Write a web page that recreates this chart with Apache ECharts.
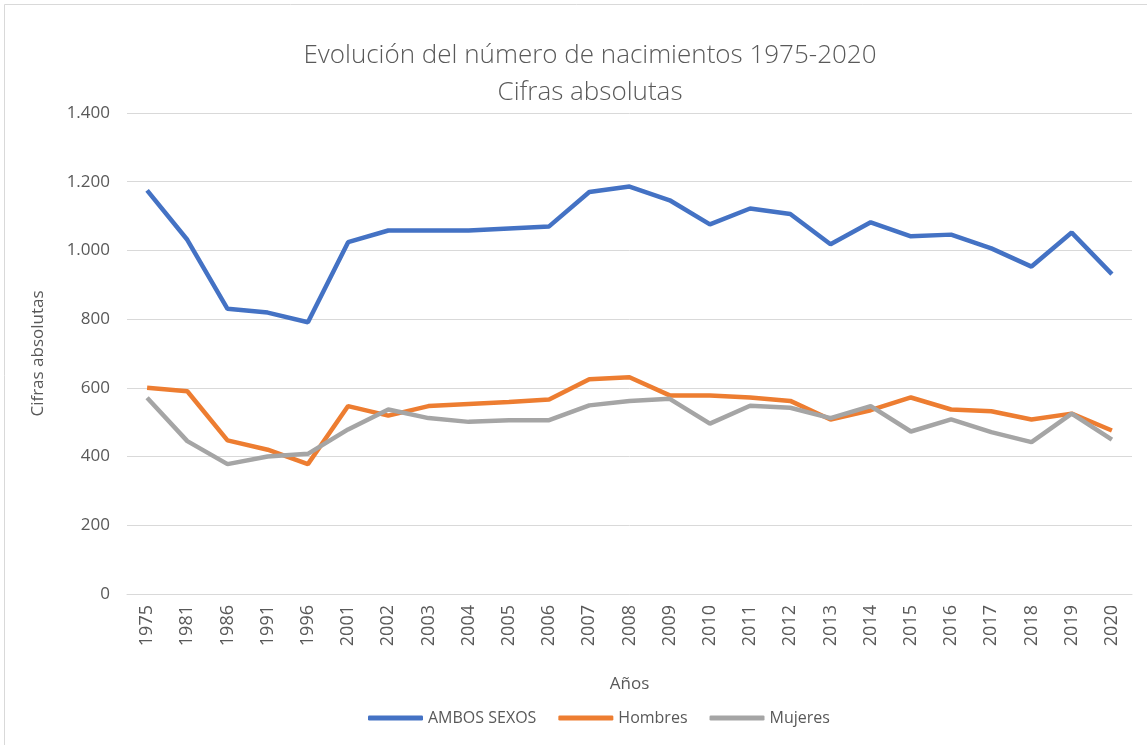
<!DOCTYPE html>
<html>
<head>
<meta charset="utf-8">
<script src="https://cdn.jsdelivr.net/npm/echarts@6/dist/echarts.min.js"></script>
<style>
  html, body { margin: 0; padding: 0; background: #fff; }
  #container { width: 1147px; height: 745px; }
</style>
</head>
<body>
<div id="container"></div>
<script>
var years = ['1975', '1981', '1986', '1991', '1996', '2001', '2002', '2003', '2004', '2005', '2006', '2007',
    '2008', '2009', '2010', '2011', '2012', '2013', '2014', '2015', '2016', '2017', '2018', '2019', '2020'];

var ambos = [1175, 1031, 830, 819, 791, 1024, 1058, 1058, 1058, 1064, 1070, 1170,
    1186, 1146, 1076, 1122, 1106, 1018, 1082, 1041, 1046, 1006, 953, 1052, 931];
var hombres = [600, 590, 447, 420, 378, 547, 519, 547, 553, 559, 566, 625,
    631, 578, 578, 572, 562, 508, 535, 572, 537, 532, 508, 525, 476];
var mujeres = [571, 445, 378, 400, 408, 479, 537, 512, 501, 506, 506, 549,
    562, 568, 496, 548, 542, 512, 547, 473, 508, 471, 442, 525, 449];

var textGray = '#595959';

var dom = document.getElementById('container');
var myChart = echarts.init(dom);

function fmt(v) {
    return String(v).replace(/\B(?=(\d{3})+(?!\d))/g, '.');
}

var option = {
    animation: false,
    title: {
        text: 'Evolución del número de nacimientos 1975-2020\nCifras absolutas',
        left: 585,
        textAlign: 'center',
        top: 32,
        textStyle: {
            fontFamily: 'Open Sans',
            fontWeight: 300,
            fontSize: 26,
            color: textGray,
            lineHeight: 37
        }
    },
    legend: {
        top: 705,
        left: 363,
        icon: 'roundRect',
        itemWidth: 55,
        itemHeight: 5,
        itemGap: 22,
        textStyle: { color: textGray, fontSize: 16, fontFamily: 'Open Sans' },
        data: ['AMBOS SEXOS', 'Hombres', 'Mujeres']
    },
    grid: {
        left: 127,
        right: 15,
        top: 113,
        bottom: 151
    },
    xAxis: {
        type: 'category',
        data: years,
        name: 'Años',
        nameLocation: 'middle',
        nameGap: 82,
        nameTextStyle: { color: textGray, fontSize: 17, fontFamily: 'Open Sans' },
        axisLine: { lineStyle: { color: '#d9d9d9', width: 1 } },
        axisTick: { show: false },
        axisLabel: {
            rotate: 90,
            color: textGray,
            fontSize: 18,
            fontFamily: 'Open Sans',
            margin: 11
        }
    },
    yAxis: {
        type: 'value',
        min: 0,
        max: 1400,
        interval: 200,
        name: 'Cifras absolutas',
        nameLocation: 'middle',
        nameGap: 80,
        nameRotate: 90,
        nameTextStyle: { color: textGray, fontSize: 17, fontFamily: 'Open Sans' },
        axisLine: { show: false },
        axisTick: { show: false },
        splitLine: { lineStyle: { color: '#d9d9d9', width: 1 } },
        axisLabel: {
            color: textGray,
            fontSize: 17,
            fontFamily: 'Open Sans',
            margin: 17,
            formatter: fmt
        }
    },
    series: [
        {
            name: 'AMBOS SEXOS',
            type: 'line',
            data: ambos,
            symbol: 'none',
            lineStyle: { color: '#4472c4', width: 4.5 },
            itemStyle: { color: '#4472c4' }
        },
        {
            name: 'Hombres',
            type: 'line',
            data: hombres,
            symbol: 'none',
            lineStyle: { color: '#ed7d31', width: 4.5 },
            itemStyle: { color: '#ed7d31' }
        },
        {
            name: 'Mujeres',
            type: 'line',
            data: mujeres,
            symbol: 'none',
            lineStyle: { color: '#a5a5a5', width: 4.5 },
            itemStyle: { color: '#a5a5a5' }
        }
    ],
    graphic: [{
        type: 'rect',
        shape: { x: 4.5, y: 4.5, width: 1200, height: 800 },
        style: { fill: 'none', stroke: '#d9d9d9', lineWidth: 1 },
        silent: true
    }]
};

myChart.setOption(option);
</script>
</body>
</html>
